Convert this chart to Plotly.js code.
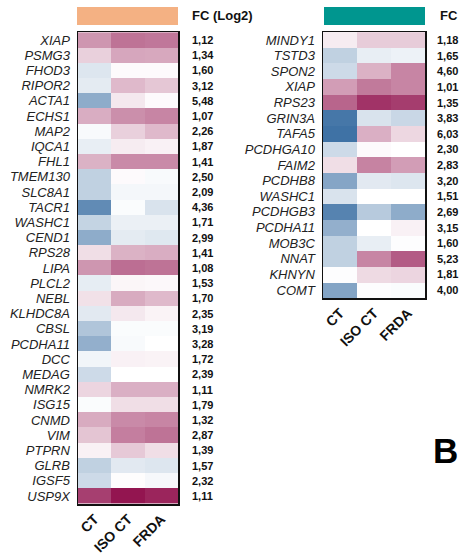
<!DOCTYPE html>
<html>
<head>
<meta charset="utf-8">
<script src="https://cdn.plot.ly/plotly-3.0.1.min.js"></script>
<style>html,body{margin:0;padding:0;background:#fff;}#chart{width:460px;height:554px;}</style>
</head>
<body>
<div id="chart"></div>
<script>
const conditions = ['CT', 'ISO CT', 'FRDA'];

const leftGenes = ['XIAP','PSMG3','FHOD3','RIPOR2','ACTA1','ECHS1','MAP2','IQCA1','FHL1','TMEM130','SLC8A1','TACR1','WASHC1','CEND1','RPS28','LIPA','PLCL2','NEBL','KLHDC8A','CBSL','PCDHA11','DCC','MEDAG','NMRK2','ISG15','CNMD','VIM','PTPRN','GLRB','IGSF5','USP9X'];
const leftFC = ['1,12','1,34','1,60','3,12','5,48','1,07','2,26','1,87','1,41','2,50','2,09','4,36','1,71','2,99','1,41','1,08','1,53','1,70','2,35','3,19','3,28','1,72','2,39','1,11','1,79','1,32','2,87','1,39','1,57','2,32','1,11'];
const leftCT   = [0.45,0.20,-0.15,-0.12,-0.50,0.35,-0.03,-0.10,0.33,-0.28,-0.28,-0.70,-0.26,-0.50,0.14,0.45,-0.11,0.13,-0.13,-0.35,-0.48,-0.06,-0.22,0.18,-0.02,0.36,0.25,0.06,-0.28,-0.22,0.82];
const leftISO  = [0.60,0.38,0.02,0.30,0.10,0.48,0.20,0.08,0.50,0.02,-0.05,-0.02,-0.09,-0.12,0.33,0.62,0.04,0.36,0.10,-0.02,-0.03,0.06,0.00,0.34,0.14,0.50,0.55,0.23,-0.13,0.01,1.00];
const leftFRDA = [0.58,0.37,0.02,0.24,0.02,0.52,0.30,0.06,0.50,-0.03,-0.05,-0.17,-0.09,-0.14,0.35,0.60,0.03,0.30,0.05,-0.02,0.00,0.05,0.00,0.34,0.14,0.52,0.60,0.14,-0.15,-0.04,0.93];

const rightGenes = ['MINDY1','TSTD3','SPON2','XIAP','RPS23','GRIN3A','TAFA5','PCDHGA10','FAIM2','PCDHB8','WASHC1','PCDHGB3','PCDHA11','MOB3C','NNAT','KHNYN','COMT'];
const rightFC = ['1,18','1,65','4,60','1,01','1,35','3,83','6,03','2,30','2,83','3,20','1,51','2,69','3,15','1,60','5,23','1,81','4,00'];
const rightCT   = [0.08,-0.28,-0.22,0.42,0.66,-0.82,-0.85,-0.22,0.14,-0.54,-0.17,-0.75,-0.48,-0.28,-0.28,-0.01,-0.55];
const rightISO  = [0.22,-0.10,0.33,0.57,0.87,-0.17,0.34,0.02,0.53,-0.13,0.00,-0.32,0.00,-0.10,0.52,0.16,-0.01];
const rightFRDA = [0.22,-0.08,0.52,0.52,0.83,-0.24,0.17,0.00,0.42,-0.15,0.00,-0.50,0.06,-0.01,0.70,0.18,-0.02];

const colorscale = [[0,'#1d5995'],[0.5,'#ffffff'],[1,'#931550']];
const fontFam = '"Liberation Sans", Arial, sans-serif';

function makeZ(a,b,c){ return a.map((v,i)=>[a[i], b[i], c[i]]); }

const traces = [
  {type:'heatmap', x:conditions, y:leftGenes, z:makeZ(leftCT,leftISO,leftFRDA),
   zmin:-1, zmax:1, colorscale:colorscale, showscale:false, hoverinfo:'skip', xaxis:'x', yaxis:'y'},
  {type:'heatmap', x:conditions, y:rightGenes, z:makeZ(rightCT,rightISO,rightFRDA),
   zmin:-1, zmax:1, colorscale:colorscale, showscale:false, hoverinfo:'skip', xaxis:'x2', yaxis:'y2'}
];

const W = 460, H = 554;
const px = v => v / W;
const py = v => 1 - v / H;

const xBase = {type:'category', showline:true, mirror:true, linecolor:'#111', linewidth:1.5,
  ticks:'', tickangle:-45, showgrid:false, zeroline:false, fixedrange:true,
  tickmode:'array', tickvals:conditions,
  tickfont:{family:fontFam, size:14, color:'#111', weight:'bold'}};
const yBase = {type:'category', autorange:'reversed', showline:true, mirror:true, linecolor:'#111', linewidth:1.5,
  ticks:'', showgrid:false, zeroline:false, fixedrange:true, ticklabelstandoff:4,
  tickfont:{family:fontFam, size:13, color:'#222', style:'italic'}};

const annotations = [];
leftGenes.forEach((g,i)=>annotations.push({xref:'paper', yref:'y', x:px(190), y:g, xanchor:'left', yanchor:'middle',
  text:leftFC[i], showarrow:false, font:{family:fontFam, size:11, color:'#111', weight:'bold'}}));
rightGenes.forEach((g,i)=>annotations.push({xref:'paper', yref:'y2', x:px(435), y:g, xanchor:'left', yanchor:'middle',
  text:rightFC[i], showarrow:false, font:{family:fontFam, size:11, color:'#111', weight:'bold'}}));
annotations.push({xref:'paper', yref:'paper', x:px(190), y:py(16), xanchor:'left', yanchor:'middle',
  text:'FC (Log2)', showarrow:false, font:{family:fontFam, size:13, color:'#111', weight:'bold'}});
annotations.push({xref:'paper', yref:'paper', x:px(438), y:py(16), xanchor:'left', yanchor:'middle',
  text:'FC', showarrow:false, font:{family:fontFam, size:13, color:'#111', weight:'bold'}});
annotations.push({xref:'paper', yref:'paper', x:px(460), y:py(450), xanchor:'right', yanchor:'middle',
  text:'B', showarrow:false, font:{family:fontFam, size:35, color:'#000', weight:'bold'}});

const layout = {
  width:W, height:H, margin:{l:0,r:0,t:0,b:0}, paper_bgcolor:'#fff', plot_bgcolor:'#fff',
  showlegend:false,
  xaxis:Object.assign({}, xBase, {domain:[px(78), px(178)], anchor:'y'}),
  yaxis:Object.assign({}, yBase, {domain:[py(504), py(32)], anchor:'x', tickmode:'array', tickvals:leftGenes}),
  xaxis2:Object.assign({}, xBase, {domain:[px(323), px(425)], anchor:'y2'}),
  yaxis2:Object.assign({}, yBase, {domain:[py(298), py(32)], anchor:'x2', tickmode:'array', tickvals:rightGenes}),
  shapes:[
    {type:'rect', xref:'paper', yref:'paper', x0:px(77), x1:px(178), y0:py(25), y1:py(7), fillcolor:'#F4B183', line:{width:0}},
    {type:'rect', xref:'paper', yref:'paper', x0:px(324), x1:px(425), y0:py(25), y1:py(7), fillcolor:'#00968F', line:{width:0}}
  ],
  annotations:annotations
};

Plotly.newPlot('chart', traces, layout, {staticPlot:true, displayModeBar:false});
</script>
</body>
</html>
